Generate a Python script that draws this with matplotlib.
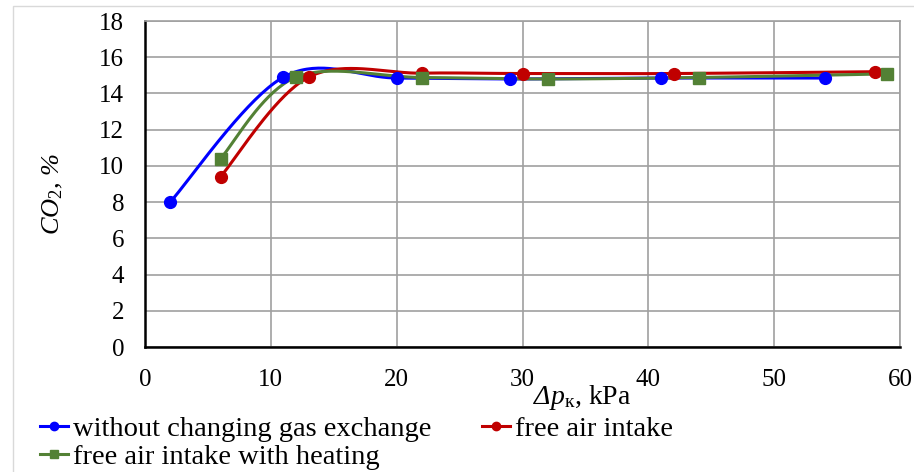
import numpy as np
import matplotlib.pyplot as plt
from matplotlib.patches import Rectangle

plt.rcParams['font.family'] = 'Liberation Serif'
plt.rcParams['mathtext.fontset'] = 'custom'
plt.rcParams['mathtext.rm'] = 'Liberation Serif'
plt.rcParams['mathtext.it'] = 'Liberation Serif:italic'
plt.rcParams['mathtext.sf'] = 'Liberation Serif:italic'

# pressure drop, kPa and CO2, % for the three regimes
dp_base = [2, 11, 20, 29, 41, 54]
co2_base = [8.0, 14.9, 14.85, 14.8, 14.85, 14.85]

dp_air = [6, 13, 22, 30, 42, 58]
co2_air = [9.4, 14.9, 15.12, 15.1, 15.1, 15.2]

dp_heat = [6, 12, 22, 32, 44, 59]
co2_heat = [10.4, 14.9, 14.88, 14.8, 14.88, 15.08]

labels = ['without changing gas exchange', 'free air intake',
          'free air intake with heating']
colors = ['#0000ff', '#c00000', '#538135']
markers = ['o', 'o', 's']


def smooth(x, y, n=40):
    # Catmull-Rom style Bezier segments, like a smoothed scatter line
    p = np.column_stack([x, y]).astype(float)
    p = np.vstack([p[0], p, p[-1]])
    t = np.linspace(0, 1, n)[:, None]
    out = []
    for i in range(1, len(p) - 2):
        p0, p1, p2, p3 = p[i - 1], p[i], p[i + 1], p[i + 2]
        c1 = p1 + (p2 - p0) / 6
        c2 = p2 - (p3 - p1) / 6
        seg = ((1 - t) ** 3 * p1 + 3 * (1 - t) ** 2 * t * c1
               + 3 * (1 - t) * t ** 2 * c2 + t ** 3 * p2)
        out.append(seg)
    out = np.vstack(out)
    return out[:, 0], out[:, 1]


fig = plt.figure(figsize=(9.14, 4.72), dpi=100)
fig.patches.append(Rectangle((13 / 914, -0.1), 1.2, 1 - 6 / 472 + 0.1,
                             transform=fig.transFigure, fill=False,
                             edgecolor='#d9d9d9', linewidth=1))
ax = fig.add_axes([145 / 914, 1 - 347 / 472, 755 / 914, 326 / 472])

series = [(dp_base, co2_base), (dp_air, co2_air), (dp_heat, co2_heat)]
handles = []
for (x, y), c, m, lab in zip(series, colors, markers, labels):
    sx, sy = smooth(x, y)
    ax.plot(sx, sy, color=c, linewidth=2.2, zorder=3)
    ax.plot(x, y, linestyle='none', marker=m, color=c,
            markersize=8.5, zorder=4)
    h, = ax.plot([], [], color=c, marker=m, linewidth=2.2, markersize=6)
    handles.append(h)

ax.set_xlim(0, 60)
ax.set_ylim(0, 18)
ax.set_xticks(range(0, 61, 10))
ax.set_yticks(range(0, 19, 2))
ax.grid(True, color='#a0a0a0', linewidth=1.2)
ax.set_axisbelow(True)
for s in ['top', 'right']:
    ax.spines[s].set_color('#a0a0a0')
    ax.spines[s].set_linewidth(1.2)
for s in ['left', 'bottom']:
    ax.spines[s].set_color('black')
    ax.spines[s].set_linewidth(1.8)
ax.tick_params(length=0, labelsize=18)
ax.tick_params(axis='x', pad=16)
ax.tick_params(axis='y', pad=15)

ax.set_xlabel(r'$\mathsf{Δ}\mathit{p}_{\mathrm{к}}$, kPa', fontsize=20)
ax.xaxis.set_label_coords(0.579, -0.11)
ax.set_ylabel(r'$\mathit{CO}_{\mathit{2}}$, %', fontsize=19, style='italic')
ax.yaxis.set_label_coords(-0.106, 0.469)

fig.legend(handles=[handles[0], handles[2], handles[1]],
           labels=[labels[0], labels[2], labels[1]],
           ncol=2, loc='upper left', bbox_to_anchor=(40 / 914, 1 - 416 / 472),
           frameon=False, fontsize=20.5, handlelength=1.0, handletextpad=0.15,
           columnspacing=1.78, labelspacing=0.08, borderaxespad=0,
           borderpad=0)

fig.savefig('out.png', dpi=100)
